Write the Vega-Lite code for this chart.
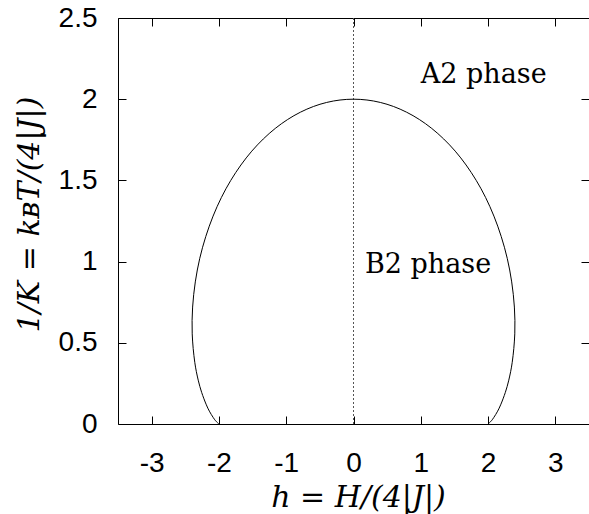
{
  "$schema": "https://vega.github.io/schema/vega-lite/v6.json",
  "width": 471,
  "height": 406,
  "autosize": {"type": "none"},
  "padding": {"left": 118, "top": 18, "right": 0, "bottom": 90},
  "background": "white",
  "config": {
    "view": {"stroke": "black", "strokeWidth": 1},
    "axis": {
      "grid": false,
      "domain": false,
      "tickColor": "black",
      "tickSize": -8,
      "tickWidth": 1,
      "labelColor": "black",
      "labelFont": "Liberation Sans",
      "labelFontSize": 28,
      "titleColor": "black",
      "titleFont": "DejaVu Serif",
      "titleFontSize": 30,
      "titleFontStyle": "italic",
      "titleFontWeight": "normal",
      "labelOverlap": false,
      "labelFlush": false,
      "labelBound": false
    }
  },
  "datasets": {
    "curve": [
      {"o": 1, "h": -2.0, "T": 0.0},
      {"o": 2, "h": -2.05, "T": 0.02},
      {"o": 3, "h": -2.085, "T": 0.04},
      {"o": 4, "h": -2.142, "T": 0.079},
      {"o": 5, "h": -2.187, "T": 0.118},
      {"o": 6, "h": -2.257, "T": 0.195},
      {"o": 7, "h": -2.308, "T": 0.27},
      {"o": 8, "h": -2.359, "T": 0.38},
      {"o": 9, "h": -2.397, "T": 0.555},
      {"o": 10, "h": -2.391, "T": 0.72},
      {"o": 11, "h": -2.351, "T": 0.875},
      {"o": 12, "h": -2.285, "T": 1.02},
      {"o": 13, "h": -2.195, "T": 1.155},
      {"o": 14, "h": -2.087, "T": 1.28},
      {"o": 15, "h": -1.963, "T": 1.395},
      {"o": 16, "h": -1.824, "T": 1.5},
      {"o": 17, "h": -1.673, "T": 1.595},
      {"o": 18, "h": -1.512, "T": 1.68},
      {"o": 19, "h": -1.341, "T": 1.755},
      {"o": 20, "h": -1.163, "T": 1.82},
      {"o": 21, "h": -0.979, "T": 1.875},
      {"o": 22, "h": -0.789, "T": 1.92},
      {"o": 23, "h": -0.596, "T": 1.955},
      {"o": 24, "h": -0.399, "T": 1.98},
      {"o": 25, "h": -0.2, "T": 1.995},
      {"o": 26, "h": 0.0, "T": 2.0},
      {"o": 27, "h": 0.2, "T": 1.995},
      {"o": 28, "h": 0.399, "T": 1.98},
      {"o": 29, "h": 0.596, "T": 1.955},
      {"o": 30, "h": 0.789, "T": 1.92},
      {"o": 31, "h": 0.979, "T": 1.875},
      {"o": 32, "h": 1.163, "T": 1.82},
      {"o": 33, "h": 1.341, "T": 1.755},
      {"o": 34, "h": 1.512, "T": 1.68},
      {"o": 35, "h": 1.673, "T": 1.595},
      {"o": 36, "h": 1.824, "T": 1.5},
      {"o": 37, "h": 1.963, "T": 1.395},
      {"o": 38, "h": 2.087, "T": 1.28},
      {"o": 39, "h": 2.195, "T": 1.155},
      {"o": 40, "h": 2.285, "T": 1.02},
      {"o": 41, "h": 2.351, "T": 0.875},
      {"o": 42, "h": 2.391, "T": 0.72},
      {"o": 43, "h": 2.397, "T": 0.555},
      {"o": 44, "h": 2.359, "T": 0.38},
      {"o": 45, "h": 2.308, "T": 0.27},
      {"o": 46, "h": 2.257, "T": 0.195},
      {"o": 47, "h": 2.187, "T": 0.118},
      {"o": 48, "h": 2.142, "T": 0.079},
      {"o": 49, "h": 2.085, "T": 0.04},
      {"o": 50, "h": 2.05, "T": 0.02},
      {"o": 51, "h": 2.0, "T": 0.0}
    ],
    "labels": [
      {"label": "A2 phase", "h": 1.0, "T": 2.1},
      {"label": "B2 phase", "h": 0.17, "T": 0.93}
    ],
    "zero": [
      {"h": 0}
    ]
  },
  "layer": [
    {
      "data": {"name": "zero"},
      "mark": {"type": "rule", "color": "#555555", "strokeDash": [2, 2], "strokeWidth": 1},
      "encoding": {
        "x": {"field": "h", "type": "quantitative", "axis": null}
      }
    },
    {
      "data": {"name": "curve"},
      "mark": {"type": "line", "color": "black", "strokeWidth": 1, "interpolate": "catmull-rom"},
      "encoding": {
        "x": {
          "field": "h",
          "type": "quantitative",
          "scale": {"domain": [-3.5, 3.5], "nice": false, "zero": false},
          "axis": {
            "orient": "bottom",
            "values": [-3, -2, -1, 0, 1, 2, 3],
            "labelExpr": "'' + datum.value",
            "labelPadding": 33,
            "title": "h = H/(4|J|)",
            "titleX": 240,
            "titleY": 82,
            "titleBaseline": "alphabetic",
            "titleAlign": "center"
          }
        },
        "y": {
          "field": "T",
          "type": "quantitative",
          "scale": {"domain": [0, 2.5], "nice": false, "zero": false},
          "axis": {
            "orient": "left",
            "values": [0, 0.5, 1, 1.5, 2, 2.5],
            "labelExpr": "'' + datum.value",
            "labelPadding": 29,
            "title": "1/K = kʙT/(4|J|)",
            "titleX": -80,
            "titleY": 196,
            "titleAngle": 270,
            "titleBaseline": "alphabetic",
            "titleAlign": "center"
          }
        },
        "order": {"field": "o", "type": "quantitative"}
      }
    },
    {
      "data": {"name": "labels"},
      "mark": {"type": "text", "font": "DejaVu Serif", "fontSize": 27, "align": "left", "baseline": "alphabetic", "color": "black"},
      "encoding": {
        "x": {
          "field": "h",
          "type": "quantitative",
          "axis": {"orient": "top", "values": [-3, -2, -1, 0, 1, 2, 3], "labels": false, "title": null}
        },
        "y": {
          "field": "T",
          "type": "quantitative",
          "axis": {"orient": "right", "values": [0, 0.5, 1, 1.5, 2, 2.5], "labels": false, "title": null}
        },
        "text": {"field": "label"}
      }
    }
  ],
  "resolve": {"axis": {"x": "independent", "y": "independent"}}
}
